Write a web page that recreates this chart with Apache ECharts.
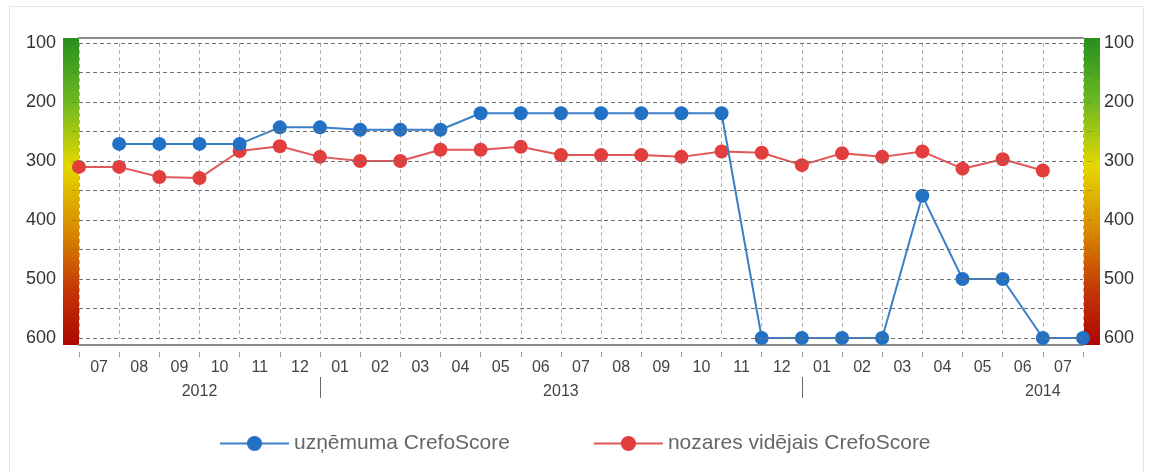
<!DOCTYPE html>
<html>
<head>
<meta charset="utf-8">
<script src="https://cdn.jsdelivr.net/npm/echarts@6/dist/echarts.min.js"></script>
<style>
html,body{margin:0;padding:0;background:#fff;}
#frame{position:absolute;left:9px;top:6px;width:1135px;height:480px;border:1px solid #e6e6e6;box-sizing:border-box;}
#chart{position:absolute;left:0;top:0;width:1155px;height:472px;}
</style>
</head>
<body>
<div id="frame"></div>
<div id="chart"></div>
<script>
// month boundaries (tick positions where the points sit)
const points = ['2012-07','2012-08','2012-09','2012-10','2012-11','2012-12',
  '2013-01','2013-02','2013-03','2013-04','2013-05','2013-06','2013-07','2013-08','2013-09','2013-10','2013-11','2013-12',
  '2014-01','2014-02','2014-03','2014-04','2014-05','2014-06','2014-07','2014-08'];
// month labels (shown between ticks)
const monthLabels = ['07','08','09','10','11','12',
  '01','02','03','04','05','06','07','08','09','10','11','12',
  '01','02','03','04','05','06','07'];
const yearLabels = {3:'2012', 12:'2013', 24:'2014'};
const yearSeparators = [6, 18];
const yTicks = [100, 200, 300, 400, 500, 600];

const companyName = 'uzņēmuma CrefoScore';
const industryName = 'nozares vidējais CrefoScore';
const companyScore = [null, 271, 271, 271, 271, 243, 243, 247, 247, 247, 219, 219, 219, 219, 219, 219, 219,
  600, 600, 600, 600, 359, 500, 500, 600, 600];
const industryScore = [310, 310, 327, 329, 283, 275, 293, 300, 300, 281, 281, 276, 290, 290, 290, 293, 284,
  286, 307, 287, 293, 284, 313, 297, 316, null];

const FONT = '"Liberation Sans", Arial, sans-serif';
const grad = new echarts.graphic.LinearGradient(0, 0, 0, 1, [
  {offset: 0, color: '#1d8a1d'},
  {offset: 0.22, color: '#6cb822'},
  {offset: 0.42, color: '#e4d800'},
  {offset: 0.62, color: '#d88a00'},
  {offset: 0.82, color: '#c23206'},
  {offset: 1, color: '#a80000'}
]);

const chart = echarts.init(document.getElementById('chart'), null, {renderer: 'canvas'});
const hide = {axisLine:{show:false, onZero:false}, axisTick:{show:false}, axisLabel:{show:false}, splitLine:{show:false}};
chart.setOption({
  animation: false,
  backgroundColor: 'transparent',
  grid: [
    {left: 79, right: 72, top: 43, height: 295},
    {left: 79, right: 72, top: 38, height: 307}
  ],
  xAxis: [
    // 0: data axis + vertical grid
    Object.assign({}, hide, {type:'category', gridIndex:0, data: points, boundaryGap:false, position:'bottom',
      splitLine:{show:true, interval:0, lineStyle:{color:'#b0b0b0', type:[4,3], width:1}}}),
    // 1: small ticks under the frame
    Object.assign({}, hide, {type:'category', gridIndex:0, data: points, boundaryGap:false, position:'bottom', offset:14,
      axisTick:{show:true, interval:0, length:5, lineStyle:{color:'#999'}}}),
    // 2: month labels
    Object.assign({}, hide, {type:'category', gridIndex:0, data: monthLabels, boundaryGap:true, position:'bottom', offset:7,
      axisLabel:{show:true, interval:0, margin:15, fontFamily:FONT, fontSize:16, color:'#444'}}),
    // 3: years + separators
    Object.assign({}, hide, {type:'category', gridIndex:0, data: points, boundaryGap:false, position:'bottom', offset:39,
      axisTick:{show:true, length:21, interval:(i)=>yearSeparators.indexOf(i)>=0, lineStyle:{color:'#666'}},
      axisLabel:{show:true, margin:7, fontFamily:FONT, fontSize:16, color:'#444',
        interval:(i)=>yearLabels[i]!==undefined, formatter:(v,i)=>yearLabels[i]||''}}),
    // 4: bottom frame line
    Object.assign({}, hide, {type:'category', gridIndex:1, data: points, boundaryGap:false, position:'bottom',
      axisLine:{show:true, onZero:false, lineStyle:{color:'#8a8a8a', width:2}}}),
    // 5: top frame line
    Object.assign({}, hide, {type:'category', gridIndex:1, data: points, boundaryGap:false, position:'top',
      axisLine:{show:true, onZero:false, lineStyle:{color:'#8a8a8a', width:2}}})
  ],
  yAxis: [
    Object.assign({}, hide, {type:'value', gridIndex:0, inverse:true, min:100, max:600, interval:50, position:'left', offset:8, z:5,
      axisTick:{show:true, inside:true, length:5, lineStyle:{color:'rgba(90,90,90,0.35)'}},
      axisLabel:{show:true, margin:15, fontFamily:FONT, fontSize:18, color:'#333',
        formatter:(v)=>yTicks.indexOf(v)>=0 ? String(v) : ''},
      splitLine:{show:true, lineStyle:{color:'#707070', type:[4,3], width:1}}}),
    Object.assign({}, hide, {type:'value', gridIndex:0, inverse:true, min:100, max:600, interval:50, position:'right', offset:9, z:5,
      axisTick:{show:true, inside:true, length:5, lineStyle:{color:'rgba(90,90,90,0.35)'}},
      axisLabel:{show:true, margin:12, fontFamily:FONT, fontSize:18, color:'#333',
        formatter:(v)=>yTicks.indexOf(v)>=0 ? String(v) : ''}}),
    Object.assign({}, hide, {type:'value', gridIndex:1, min:0, max:1, position:'left', offset:8,
      axisLine:{show:true, onZero:false, lineStyle:{color:grad, width:16, cap:'butt'}}}),
    Object.assign({}, hide, {type:'value', gridIndex:1, min:0, max:1, position:'right', offset:9,
      axisLine:{show:true, onZero:false, lineStyle:{color:grad, width:16, cap:'butt'}}})
  ],
  legend: {
    top: 428, left: 214, itemGap: 83, itemWidth: 69, itemHeight: 19,
    textStyle: {fontFamily: FONT, fontSize: 21, color: '#666'},
    data: [companyName, industryName]
  },
  series: [
    {name: companyName, type:'line', xAxisIndex:0, yAxisIndex:0, data: companyScore,
      symbol:'circle', symbolSize:14, z:4,
      itemStyle:{color:'#2271c4'}, lineStyle:{color:'#3a7fc8', width:2}},
    {name: industryName, type:'line', xAxisIndex:0, yAxisIndex:0, data: industryScore,
      symbol:'circle', symbolSize:14, z:3,
      itemStyle:{color:'#e23e3e'}, lineStyle:{color:'#e05858', width:2}}
  ]
});
</script>
</body>
</html>
